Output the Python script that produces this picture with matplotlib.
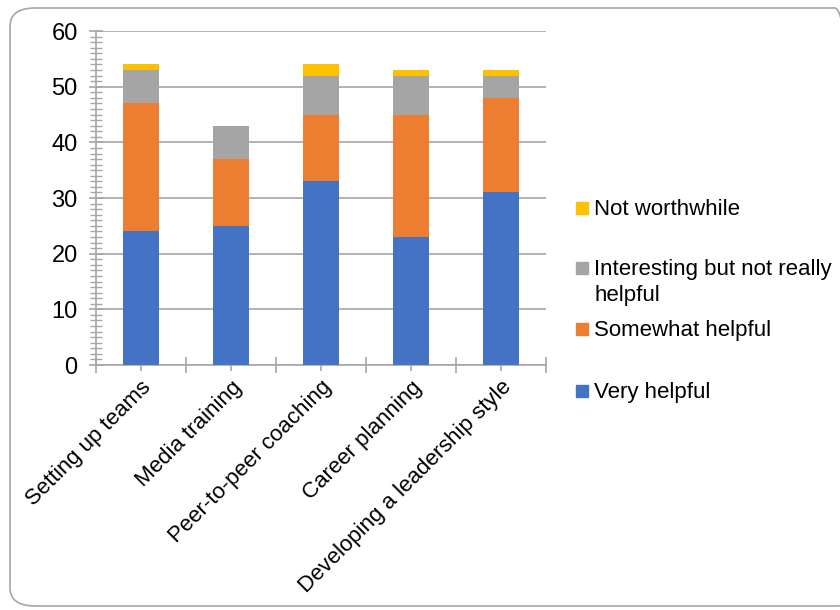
import matplotlib
matplotlib.use("Agg")
import matplotlib.pyplot as plt
import numpy as np
from matplotlib.patches import FancyBboxPatch, Rectangle
from matplotlib.ticker import MultipleLocator, FixedLocator

plt.rcParams['font.family'] = ['Liberation Sans', 'DejaVu Sans']

categories = ['Setting up teams', 'Media training', 'Peer-to-peer coaching',
              'Career planning', 'Developing a leadership style']
very_helpful = [24, 25, 33, 23, 31]
somewhat_helpful = [23, 12, 12, 22, 17]
interesting = [6, 6, 7, 7, 4]
not_worthwhile = [1, 0, 2, 1, 1]

series_names = ['Very helpful', 'Somewhat helpful',
                'Interesting but not really\nhelpful', 'Not worthwhile']
series_values = [very_helpful, somewhat_helpful, interesting, not_worthwhile]
series_colors = ['#4472C4', '#ED7D31', '#A5A5A5', '#FFC000']

W, H = 840, 610
fig = plt.figure(figsize=(W / 100, H / 100), dpi=100)
ax = fig.add_axes([0.114, 0.4016, 0.536, 0.5475])

# outer rounded frame
frame = FancyBboxPatch((10 / W, 4 / H), 850 / W, 598 / H,
                       boxstyle='round,pad=0,rounding_size=0.03',
                       transform=fig.transFigure, fill=False,
                       edgecolor='#A6A6A6', linewidth=1.2, zorder=0)
fig.patches.append(frame)

x = np.arange(len(categories))
bottom = np.zeros(len(categories))
for vals, color in zip(series_values, series_colors):
    ax.bar(x, vals, width=0.4, bottom=bottom, color=color, zorder=3)
    bottom += np.array(vals)

ax.set_xlim(-0.5, len(categories) - 0.5)
ax.set_ylim(0, 60)

ax.yaxis.set_major_locator(MultipleLocator(10))
ax.yaxis.set_minor_locator(MultipleLocator(1))
ax.grid(axis='y', which='major', color='#A6A6A6', linewidth=1.2, zorder=0)

ax.xaxis.set_major_locator(FixedLocator(np.arange(-0.5, len(categories), 1.0)))
ax.set_xticklabels([])
ax.set_xticks(x, minor=True)
ax.set_xticklabels(categories, minor=True, rotation=45, ha='right',
                   rotation_mode='anchor', fontsize=16)

ax.tick_params(axis='y', which='both', direction='inout', color='#A6A6A6',
               labelsize=17, pad=8)
ax.tick_params(axis='y', which='major', length=10, width=1.2)
ax.tick_params(axis='y', which='minor', length=8, width=1.0)
ax.tick_params(axis='x', which='major', direction='inout', length=12,
               width=1.2, color='#A6A6A6')
ax.tick_params(axis='x', which='minor', direction='inout', length=9,
               width=1.2, color='#A6A6A6', pad=4)

for side in ['top', 'right']:
    ax.spines[side].set_visible(False)
for side in ['left', 'bottom']:
    ax.spines[side].set_color('#A6A6A6')
    ax.spines[side].set_linewidth(1.2)

# legend drawn by hand: fixed slots, top entry = last series
slot_y = [391, 329, 268, 208]   # pixel rows from the top, per series
box = 12
for name, color, y in zip(series_names, series_colors, slot_y):
    fig.patches.append(Rectangle((576 / W, 1 - (y + box / 2) / H), box / W, box / H,
                                 transform=fig.transFigure, color=color))
    fig.text(594 / W, 1 - (y - 9) / H, name, fontsize=16, va='top',
             ha='left', linespacing=1.3)

fig.savefig('out.png', dpi=100)
